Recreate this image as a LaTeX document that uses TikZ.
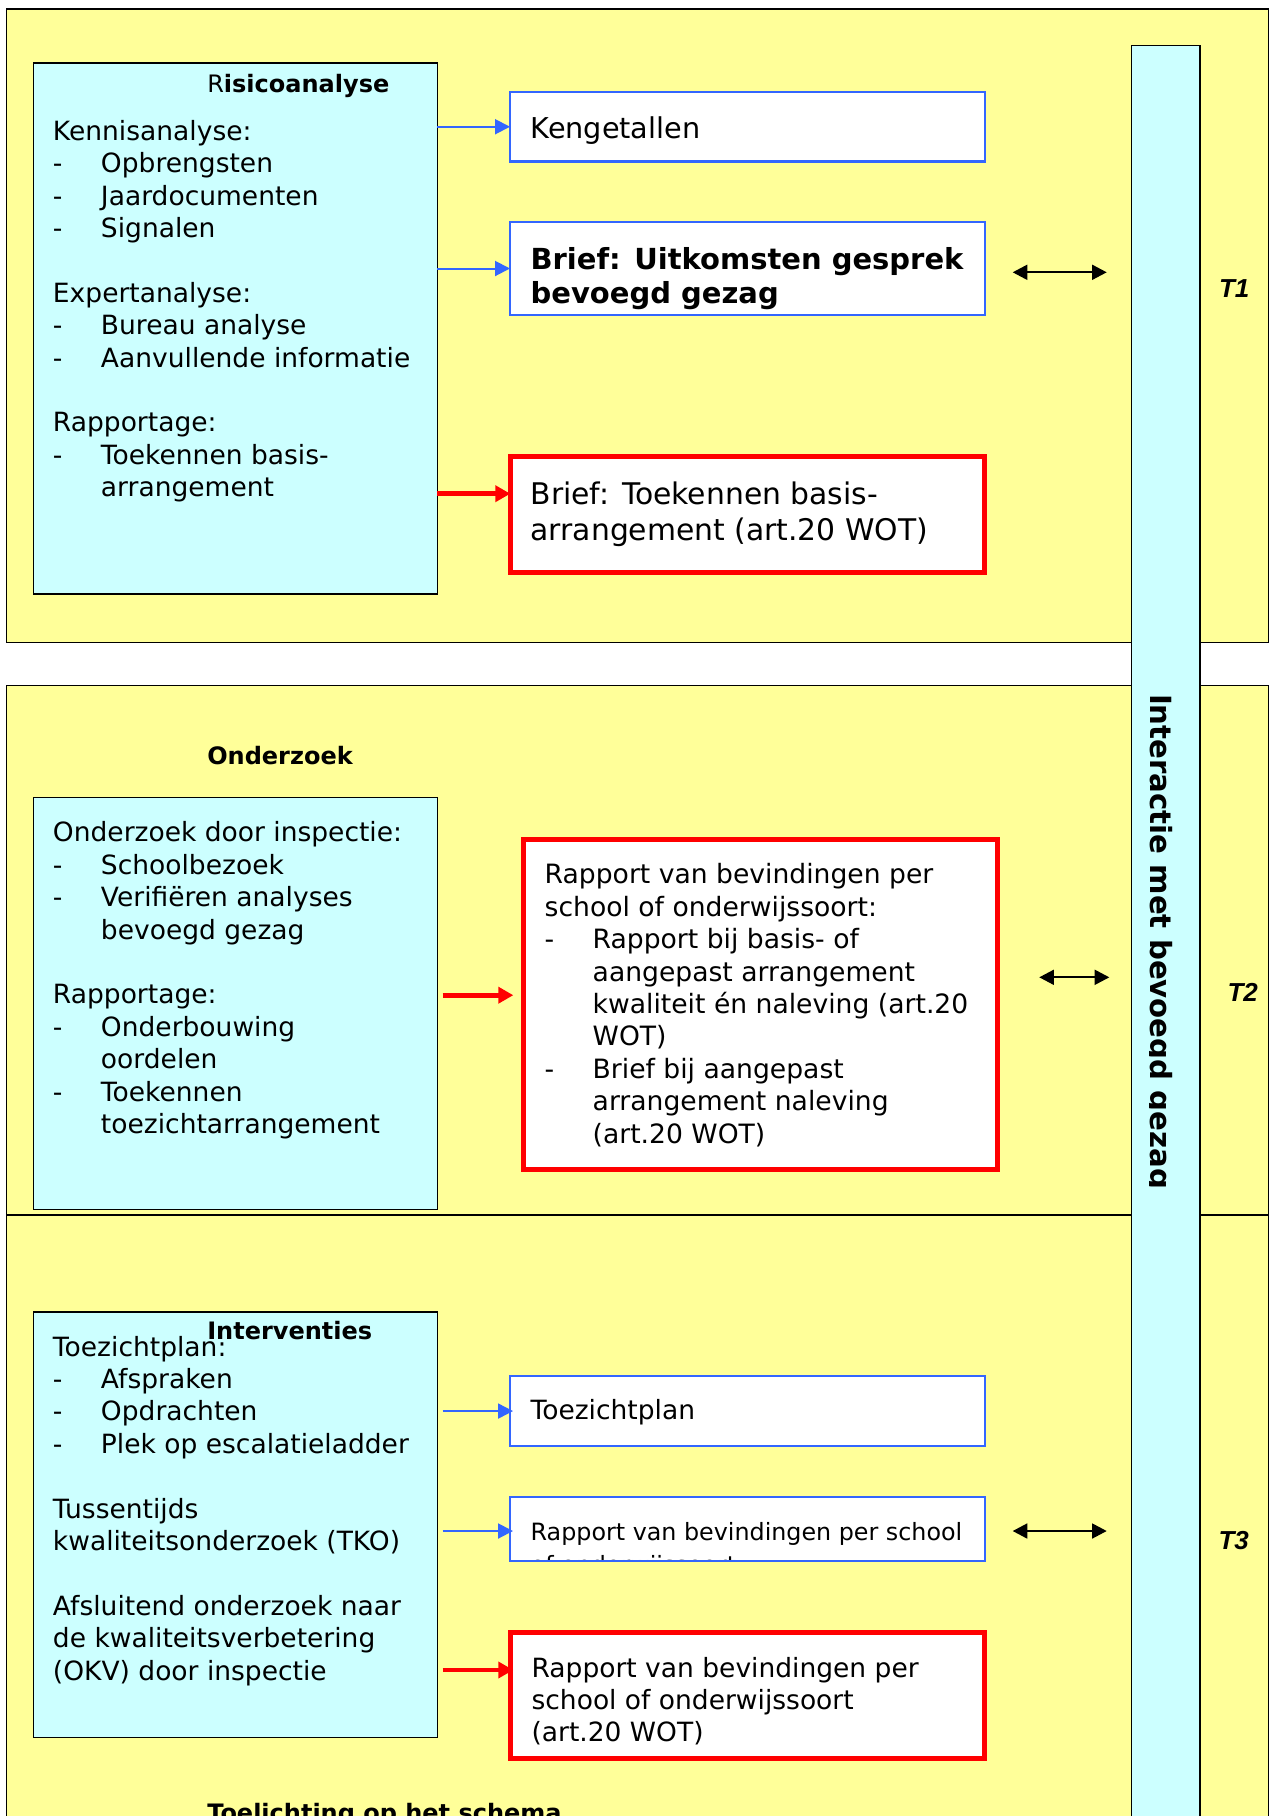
\documentclass[tikz,border=0pt]{standalone}
\usepackage{fontspec}
\setmainfont{DejaVu Sans}
\newfontfamily\tlabfont{Liberation Sans}
\usetikzlibrary{arrows.meta,fit}
\definecolor{panelyellow}{HTML}{FFFF99}
\definecolor{barcyan}{HTML}{CCFFFF}
\definecolor{boxblue}{HTML}{3366FF}
\definecolor{boxred}{HTML}{FF0000}
\newcommand\dashitem[1]{\makebox[24pt][l]{-}#1}
\newcommand\indentitem[1]{\hspace*{24pt}#1}
\begin{document}
\begin{tikzpicture}[x=0.5pt,y=-0.5pt,
  frame/.style={inner sep=0pt, outer sep=0pt},
  panel/.style={frame, fill=panelyellow, draw=black, line width=0.75pt},
  cyanbox/.style={frame, fill=barcyan, draw=black, line width=0.75pt},
  bluebox/.style={frame, fill=white, draw=boxblue, line width=1.15pt},
  redbox/.style={frame, fill=white, draw=boxred, line width=2.5pt},
  txt/.style={anchor=base west, inner sep=0pt, outer sep=0pt},
  lefttext/.style={txt, font=\fontsize{13.25pt}{16.2pt}\selectfont},
  titletext/.style={txt, font=\bfseries\fontsize{12pt}{14pt}\selectfont},
  tlabel/.style={txt, font=\tlabfont\bfseries\itshape\fontsize{13pt}{15pt}\selectfont},
  bluearrow/.style={draw=boxblue, line width=1pt, -{Triangle[length=7.5pt,width=7.5pt]}},
  redarrow/.style={draw=boxred, line width=2.3pt, -{Triangle[length=7.5pt,width=8pt]}},
  biarrow/.style={draw=black, line width=0.85pt, {Triangle[length=7.3pt,width=7.5pt]}-{Triangle[length=7.3pt,width=7.5pt]}}
]
\useasboundingbox (0,0) rectangle (1273,1816);

% panels
\node[panel, fit={(6.4,9) (1268.6,642.3)}] (p1) {};
\node[panel, fit={(6.4,685.3) (1268.6,1215)}] (p2) {};
\node[panel, fit={(6.4,1215) (1268.6,1840)}] (p3) {};

% vertical bar
\node[cyanbox, fit={(1131.4,45.4) (1200.2,1840)}] (bar) {};
\begin{scope}
  \clip (1149,50) rectangle (1199,1800);
  \node[txt, rotate=-90, font=\bfseries\fontsize{14.6pt}{17pt}\selectfont] (vtext) at (1150.5,694) {Interactie met bevoegd gezag};
\end{scope}

% T1
\node[cyanbox, fit={(33.4,63) (437.4,594)}] (risk) {};
\node[titletext] (risktitle) at (207.3,92.6) {{\mdseries R}isicoanalyse};
\node[lefttext] (risktext) at (53,140.2) {\begin{tabular}[t]{@{}l@{}}
Kennisanalyse:\\
\dashitem{Opbrengsten}\\
\dashitem{Jaardocumenten}\\
\dashitem{Signalen}\\
{}\\
Expertanalyse:\\
\dashitem{Bureau analyse}\\
\dashitem{Aanvullende informatie}\\
{}\\
Rapportage:\\
\dashitem{Toekennen basis-}\\
\indentitem{arrangement}
\end{tabular}};

\node[bluebox, fit={(510,92) (985,161.5)}] (keng) {};
\node[txt, font=\fontsize{14.35pt}{17pt}\selectfont] (kengtext) at (530.6,138.9) {Kengetallen};

\node[bluebox, fit={(510,222) (985,315)}] (brief1) {};
\node[txt, font=\bfseries\fontsize{14.5pt}{17.25pt}\selectfont] (brief1text) at (530.6,269.4) {\begin{tabular}[t]{@{}l@{}}
Brief: Uitkomsten gesprek\\
bevoegd gezag
\end{tabular}};

\node[redbox, fit={(510.3,456) (984.3,572)}] (brief2) {};
\node[txt, font=\fontsize{14.9pt}{17.9pt}\selectfont] (brief2text) at (530.6,504.2) {\begin{tabular}[t]{@{}l@{}}
Brief: Toekennen basis-\\
arrangement (art.20 WOT)
\end{tabular}};

\draw[bluearrow] (risk.east |- keng.west) -- (keng.west);
\draw[bluearrow] (risk.east |- brief1.west) -- (brief1.west);
\draw[redarrow] (risk.east |- 0,493.7) -- (brief2.west |- 0,493.7);

\coordinate (d1a) at (1012.7,272.3);
\coordinate (d1b) at (1106.7,272.3);
\draw[biarrow] (d1a) -- (d1b);
\node[tlabel] (t1) at (1219,297) {T1};

% T2
\node[titletext] (ondtitle) at (207.3,764.1) {Onderzoek};
\node[cyanbox, fit={(33.4,797.7) (437.3,1209.6)}] (onderz) {};
\node[lefttext] (ondtext) at (53,841.8) {\begin{tabular}[t]{@{}l@{}}
Onderzoek door inspectie:\\
\dashitem{Schoolbezoek}\\
\dashitem{Verifiëren analyses}\\
\indentitem{bevoegd gezag}\\
{}\\
Rapportage:\\
\dashitem{Onderbouwing}\\
\indentitem{oordelen}\\
\dashitem{Toekennen}\\
\indentitem{toezichtarrangement}
\end{tabular}};

\node[redbox, fit={(523.5,839.3) (997,1169)}] (rap2) {};
\node[txt, font=\fontsize{13.3pt}{16.2pt}\selectfont] (rap2text) at (544.7,883.9) {\begin{tabular}[t]{@{}l@{}}
Rapport van bevindingen per\\
school of onderwijssoort:\\
\dashitem{Rapport bij basis- of}\\
\indentitem{aangepast arrangement}\\
\indentitem{kwaliteit én naleving (art.20}\\
\indentitem{WOT)}\\
\dashitem{Brief bij aangepast}\\
\indentitem{arrangement naleving}\\
\indentitem{(art.20 WOT)}
\end{tabular}};

\coordinate (r2end) at (513.3,995.2);
\draw[redarrow] ([xshift=2.65pt]onderz.east |- r2end) -- (r2end);

\coordinate (d2a) at (1039.3,977.3);
\coordinate (d2b) at (1109.3,977.3);
\draw[biarrow] (d2a) -- (d2b);
\node[tlabel] (t2) at (1227.5,1001.7) {T2};

% T3
\node[cyanbox, fit={(33.4,1312.2) (437.3,1737.5)}] (interv) {};
\node[lefttext] (intext) at (53,1356) {\begin{tabular}[t]{@{}l@{}}
Toezichtplan:\\
\dashitem{Afspraken}\\
\dashitem{Opdrachten}\\
\dashitem{Plek op escalatieladder}\\
{}\\
Tussentijds\\
kwaliteitsonderzoek (TKO)\\
{}\\
Afsluitend onderzoek naar\\
de kwaliteitsverbetering\\
(OKV) door inspectie
\end{tabular}};
\node[titletext] (intitle) at (207.3,1339.5) {Interventies};

\node[bluebox, fit={(510,1375.8) (984.7,1446.3)}] (tplan) {};
\node[txt, font=\fontsize{13.25pt}{16pt}\selectfont] (tplantext) at (530.6,1419.8) {Toezichtplan};

\node[bluebox, fit={(510,1497) (985,1560.7)}] (rap3b) {};
\begin{scope}
  \clip (511,1498) rectangle (984,1559.6);
  \node[txt, font=\fontsize{11.9pt}{16.9pt}\selectfont] (rap3btext) at (530.7,1540) {\begin{tabular}[t]{@{}l@{}}
Rapport van bevindingen per school\\
of onderwijssoort
\end{tabular}};
\end{scope}

\node[redbox, fit={(510.3,1632.5) (984.3,1758)}] (rap3r) {};
\node[txt, font=\fontsize{13.25pt}{15.9pt}\selectfont] (rap3rtext) at (531.6,1677.7) {\begin{tabular}[t]{@{}l@{}}
Rapport van bevindingen per\\
school of onderwijssoort\\
(art.20 WOT)
\end{tabular}};

\draw[bluearrow] ([xshift=2.65pt]interv.east |- tplan.west) -- ([xshift=1.5pt]tplan.west);
\draw[bluearrow] ([xshift=2.65pt]interv.east |- 0,1531) -- ([xshift=1.5pt]rap3b.west |- 0,1531);
\draw[redarrow] ([xshift=2.65pt]interv.east |- 0,1670) -- ([xshift=1.5pt]rap3r.west |- 0,1670);

\coordinate (d3a) at (1012.7,1531);
\coordinate (d3b) at (1106.7,1531);
\draw[biarrow] (d3a) -- (d3b);
\node[tlabel] (t3) at (1218.5,1549.5) {T3};

\node[titletext] (toel) at (207.3,1821) {Toelichting op het schema};
\end{tikzpicture}
\end{document}
